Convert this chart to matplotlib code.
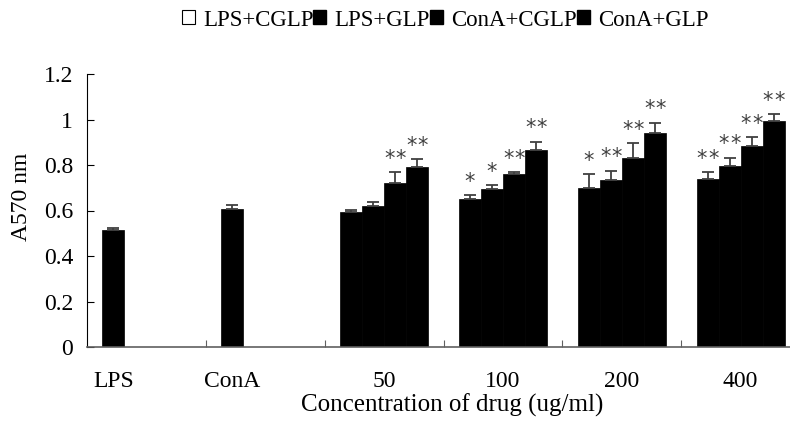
import matplotlib
matplotlib.use('Agg')
import matplotlib.pyplot as plt
from matplotlib.patches import Patch
import numpy as np

plt.rcParams['font.family'] = ['Liberation Serif', 'DejaVu Serif']

# categories on the x axis
categories = ['LPS', 'ConA', '50', '100', '200', '400']
series_names = ['LPS+CGLP', 'LPS+GLP', 'ConA+CGLP', 'ConA+GLP']

# values per series (None = no bar in that category)
s1 = [0.514, 0.608, 0.592, 0.650, 0.700, 0.740]
s2 = [None, None, 0.620, 0.693, 0.735, 0.797]
s3 = [None, None, 0.722, 0.760, 0.832, 0.882]
s4 = [None, None, 0.791, 0.867, 0.939, 0.995]

e1 = [0.008, 0.017, 0.011, 0.018, 0.059, 0.028]
e2 = [None, None, 0.019, 0.018, 0.040, 0.034]
e3 = [None, None, 0.046, 0.008, 0.063, 0.040]
e4 = [None, None, 0.034, 0.035, 0.047, 0.028]

st1 = ['', '', '', '*', '*', '**']
st2 = ['', '', '', '*', '**', '**']
st3 = ['', '', '**', '**', '**', '**']
st4 = ['', '', '**', '**', '**', '**']

values = [s1, s2, s3, s4]
errors = [e1, e2, e3, e4]
stars = [st1, st2, st3, st4]

fig = plt.figure(figsize=(7.9, 4.25), dpi=100)
ax = fig.add_axes([87/790, 78/425, 713/790, 273/425])

bw = 0.185
gap = 0.13
for j in range(4):
    xs, ys, es, ss = [], [], [], []
    for i in range(len(categories)):
        if values[j][i] is None:
            continue
        xs.append(i + gap + bw*j + bw/2)
        ys.append(values[j][i])
        es.append(errors[j][i])
        ss.append(stars[j][i])
    ax.bar(xs, ys, width=bw, color='black', edgecolor='black', linewidth=0.5, zorder=2)
    ax.errorbar(xs, ys, yerr=[np.zeros(len(es)), es], fmt='none', ecolor='#404040',
                elinewidth=1.3, capsize=4.3, capthick=1.3, zorder=3)
    for x, y, e, s in zip(xs, ys, es, ss):
        # each star drawn on its own, a little apart
        n = len(s)
        for k in range(n):
            dx = (k - (n - 1) / 2) * 8.0
            ax.annotate('*', (x, y + e), xytext=(dx, 2.5), textcoords='offset points',
                        ha='center', va='bottom', fontsize=15, color='#404040',
                        family='DejaVu Sans')

ax.set_xlim(0, 6)
ax.set_ylim(0, 1.2)
ax.set_yticks(np.arange(0, 1.21, 0.2))
ax.set_yticklabels(['0', '0.2', '0.4', '0.6', '0.8', '1', '1.2'])
ax.set_xticks([1, 2, 3, 4, 5])
ax.set_xticklabels([])
label_pos = [gap + bw/2, 1 + gap + bw/2, 2.5, 3.5, 4.5, 5.5]
ax.set_xticks(label_pos, minor=True)
ax.set_xticklabels(categories, minor=True)
ax.tick_params(axis='x', which='major', direction='in', length=5, color='#606060')
ax.tick_params(axis='x', which='minor', length=0, pad=17, labelsize=17)
ax.tick_params(axis='y', direction='in', length=5, labelsize=17, pad=10)
ax.spines['top'].set_visible(False)
ax.spines['right'].set_visible(False)
ax.spines['bottom'].set_color('#606060')
ax.spines['bottom'].set_linewidth(1.2)

fig.text(22/790, 1 - 197/425, 'A570 nm', rotation=90, ha='center', va='center', fontsize=17)
fig.text(452/790, 1 - 405/425, 'Concentration of drug (ug/ml)', ha='center', va='center', fontsize=18)

handles = [Patch(facecolor='white', edgecolor='black', linewidth=0.8)] + \
          [Patch(facecolor='black', edgecolor='black') for _ in range(3)]
fig.legend(handles, series_names, loc='center', bbox_to_anchor=(445/790, 1 - 20/425),
           ncol=4, frameon=False, fontsize=16.5, handlelength=0.57, handleheight=0.57,
           handletextpad=0.35, columnspacing=0.0, borderaxespad=0)

fig.savefig('out.png', dpi=100)
